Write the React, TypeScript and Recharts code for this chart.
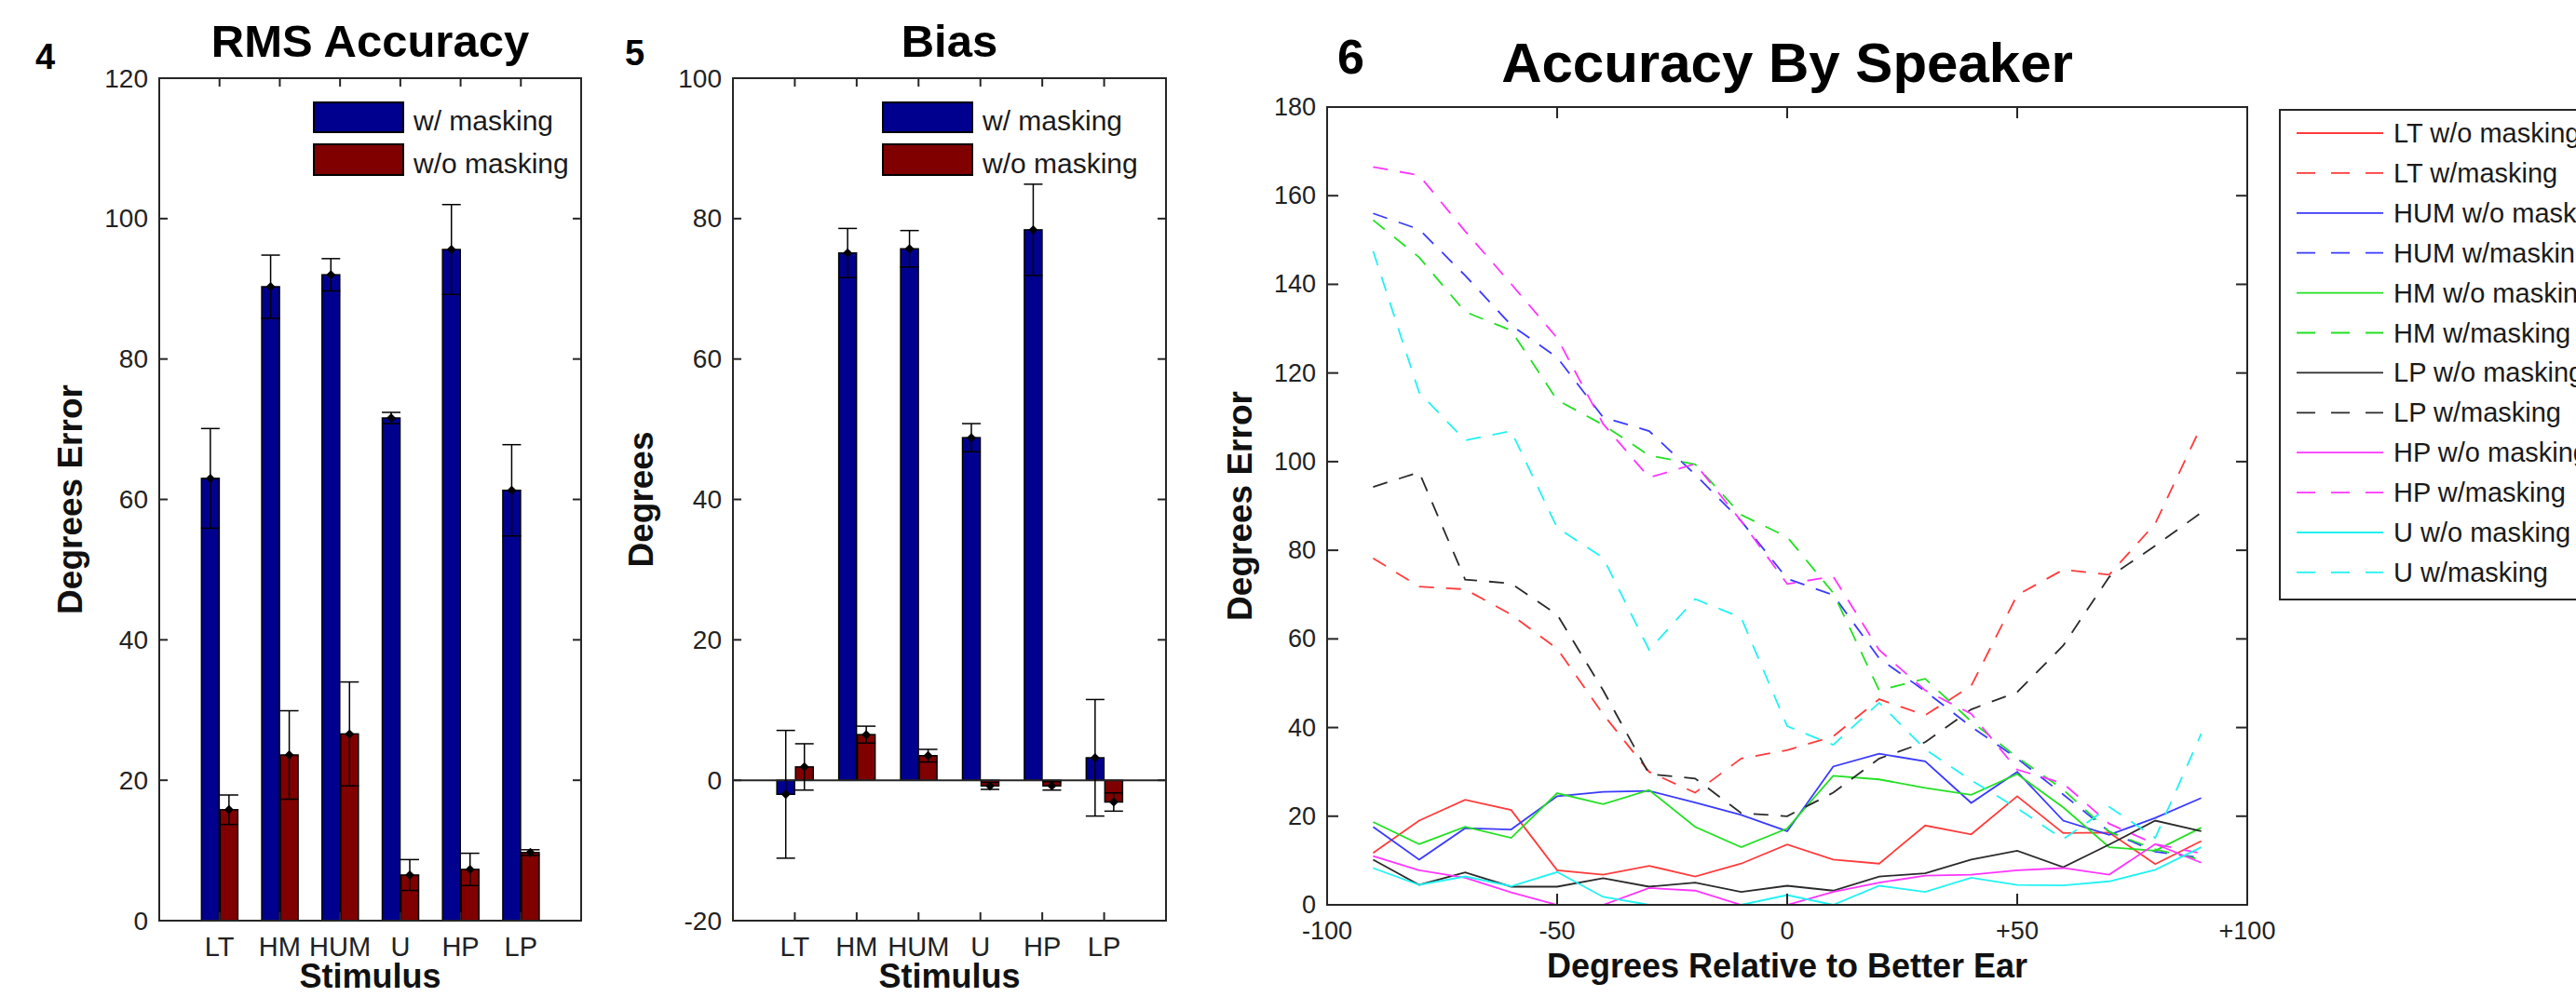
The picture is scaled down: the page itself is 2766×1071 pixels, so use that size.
import React from 'react';
import { BarChart, Bar, XAxis, YAxis, ErrorBar, ReferenceLine, ReferenceArea, LineChart, Line } from 'recharts';

const FONT = '"Liberation Sans", Arial, Helvetica, sans-serif';
const AX = '#262626';
const PAGE_W = 2766;
const PAGE_H = 1071;

// ---------- Panels 4 & 5 data ----------
const stimuli = ['LT', 'HM', 'HUM', 'U', 'HP', 'LP'];
const rmsWithMasking = [63.0, 90.3, 92.0, 71.6, 95.6, 61.3];
const rmsWithMaskingErr = [7.1, 4.5, 2.3, 0.8, 6.4, 6.5];
const rmsWithoutMasking = [15.8, 23.6, 26.6, 6.5, 7.3, 9.7];
const rmsWithoutMaskingErr = [2.1, 6.3, 7.4, 2.2, 2.3, 0.4];
const biasWithMasking = [-2.0, 75.1, 75.7, 48.8, 78.4, 3.2];
const biasWithMaskingErr = [9.1, 3.5, 2.6, 2.0, 6.5, 8.3];
const biasWithoutMasking = [1.9, 6.5, 3.5, -0.8, -0.8, -3.1];
const biasWithoutMaskingErr = [3.3, 1.2, 0.9, 0.5, 0.6, 1.3];
const rmsTicks = [0, 20, 40, 60, 80, 100, 120];
const biasTicks = [-20, 0, 20, 40, 60, 80, 100];

// ---------- Panel 6 data ----------
const degrees = [-90, -80, -70, -60, -50, -40, -30, -20, -10, 0, 10, 20, 30, 40, 50, 60, 70, 80, 90];
const ltWithout = [11.7, 19.0, 23.7, 21.4, 7.8, 6.8, 8.8, 6.4, 9.3, 13.6, 10.2, 9.3, 17.9, 15.9, 24.5, 16.2, 16.3, 9.2, 14.4];
const ltWith = [78.2, 71.8, 71.2, 65.5, 57.8, 43.0, 30.0, 25.3, 33.0, 34.9, 38.0, 46.4, 42.8, 49.4, 69.9, 75.6, 74.5, 86.0, 108.0];
const humWithout = [17.6, 10.2, 17.3, 17.0, 24.5, 25.5, 25.7, 23.1, 20.3, 16.6, 31.2, 34.1, 32.4, 23.0, 30.0, 19.0, 15.8, 19.6, 24.1];
const humWith = [156.0, 152.4, 142.0, 130.8, 123.5, 110.0, 106.9, 97.1, 86.6, 73.6, 69.9, 55.6, 48.2, 40.2, 33.0, 24.9, 16.5, 12.0, 10.6];
const hmWithout = [18.7, 13.7, 17.6, 15.1, 25.2, 22.7, 25.9, 17.6, 13.0, 17.2, 29.1, 28.3, 26.4, 24.8, 29.5, 22.0, 13.0, 12.2, 17.4];
const hmWith = [154.5, 146.1, 133.8, 129.6, 113.9, 108.3, 101.4, 99.4, 88.0, 83.0, 70.4, 48.4, 51.0, 41.4, 33.3, 26.0, 16.5, 12.5, 10.2];
const lpWithout = [10.2, 4.5, 7.3, 4.1, 4.1, 6.0, 4.1, 5.0, 2.9, 4.3, 3.2, 6.4, 7.1, 10.2, 12.2, 8.5, 13.6, 19.0, 16.6];
const lpWith = [94.3, 97.6, 73.4, 72.5, 65.5, 48.4, 29.5, 28.5, 20.7, 20.0, 25.3, 33.0, 36.7, 44.1, 48.0, 58.5, 74.0, 81.0, 88.5];
const hpWithout = [11.0, 7.8, 6.1, 2.8, 0, 0, 3.8, 3.2, 0, 0, 2.9, 5.0, 6.6, 6.8, 7.8, 8.3, 6.8, 13.7, 9.5];
const hpWith = [166.5, 164.6, 152.0, 140.1, 127.9, 108.5, 96.4, 99.5, 86.6, 72.4, 74.1, 57.5, 48.4, 43.1, 30.5, 27.4, 18.3, 13.7, 11.6];
const uWithout = [8.3, 4.5, 6.4, 4.2, 7.4, 1.8, 0, 0, 0, 2.2, 0, 4.3, 2.9, 6.1, 4.5, 4.4, 5.3, 7.9, 13.0];
const uWith = [147.5, 115.6, 104.8, 106.9, 85.1, 78.3, 57.5, 69.0, 64.8, 40.3, 36.1, 45.6, 35.1, 28.1, 21.8, 14.8, 22.1, 15.1, 38.6];
const speakerXTicks = [-100, -50, 0, 50, 100];
const speakerYTicks = [0, 20, 40, 60, 80, 100, 120, 140, 160, 180];

const RED = '#ff3b3b';
const BLUE = '#3a3aff';
const GREEN = '#22e022';
const BLACK = '#2a2a2a';
const MAGENTA = '#ff35ff';
const CYAN = '#22f2f2';

const speakerSeries = [
  { key: 'ltWo', name: 'LT w/o masking', values: ltWithout, color: RED, dashed: false },
  { key: 'ltW', name: 'LT w/masking', values: ltWith, color: RED, dashed: true },
  { key: 'humWo', name: 'HUM w/o masking', values: humWithout, color: BLUE, dashed: false },
  { key: 'humW', name: 'HUM w/masking', values: humWith, color: BLUE, dashed: true },
  { key: 'hmWo', name: 'HM w/o masking', values: hmWithout, color: GREEN, dashed: false },
  { key: 'hmW', name: 'HM w/masking', values: hmWith, color: GREEN, dashed: true },
  { key: 'lpWo', name: 'LP w/o masking', values: lpWithout, color: BLACK, dashed: false },
  { key: 'lpW', name: 'LP w/masking', values: lpWith, color: BLACK, dashed: true },
  { key: 'hpWo', name: 'HP w/o masking', values: hpWithout, color: MAGENTA, dashed: false },
  { key: 'hpW', name: 'HP w/masking', values: hpWith, color: MAGENTA, dashed: true },
  { key: 'uWo', name: 'U w/o masking', values: uWithout, color: CYAN, dashed: false },
  { key: 'uW', name: 'U w/masking', values: uWith, color: CYAN, dashed: true },
];

const DASH = '16 13';

// ---------- geometry ----------
type Geo = { L: number; R: number; T: number; B: number; left: number; width: number };
const G4: Geo = { L: 171, R: 624, T: 84, B: 989, left: 0, width: 650 };
const G5: Geo = { L: 787, R: 1252, T: 84, B: 989, left: 650, width: 640 };
const G6: Geo = { L: 1425, R: 2413, T: 115, B: 972, left: 1290, width: 1476 };
const YW = 60;
const XH = 40;

const marginOf = (g: Geo) => ({
  top: g.T,
  bottom: PAGE_H - g.B - XH,
  left: g.L - g.left - YW,
  right: g.left + g.width - g.R,
});

function makeYTick(g: Geo, fontSize: number, len: number) {
  return (props: any) => {
    const { y, payload } = props;
    const xl = g.L - g.left;
    const xr = g.R - g.left;
    return (
      <g>
        <line x1={xl} x2={xl + len} y1={y} y2={y} stroke={AX} strokeWidth={2} />
        <line x1={xr} x2={xr - len} y1={y} y2={y} stroke={AX} strokeWidth={2} />
        <text x={xl - 12} y={y} textAnchor="end" dominantBaseline="central" fontSize={fontSize} fill="#222" fontFamily={FONT}>
          {String(payload.value)}
        </text>
      </g>
    );
  };
}

function makeXTick(g: Geo, fontSize: number, len: number, fmt: (v: number) => string, labelY: number) {
  return (props: any) => {
    const { x, payload } = props;
    return (
      <g>
        <line x1={x} x2={x} y1={g.B} y2={g.B - len} stroke={AX} strokeWidth={2} />
        <line x1={x} x2={x} y1={g.T} y2={g.T + len} stroke={AX} strokeWidth={2} />
        <text x={x} y={labelY} textAnchor="middle" fontSize={fontSize} fill="#222" fontFamily={FONT}>
          {fmt(payload.value)}
        </text>
      </g>
    );
  };
}

function makeBarShape(key: string) {
  return (props: any) => {
    const { x, y, width, height, fill, payload } = props;
    if (x == null || y == null) return <g />;
    const top = Math.min(y, y + height);
    const h = Math.abs(height);
    const raw = payload && payload[key] != null ? payload[key] : Array.isArray(props.value) ? props.value[1] : props.value;
    const ey = raw >= 0 ? top : top + h;
    const cx = x + width / 2;
    const d = 5;
    return (
      <g>
        <rect x={x} y={top} width={width} height={h} fill={fill} stroke="#000" strokeWidth={1.5} />
        <path d={`M${cx},${ey - d} L${cx + d},${ey} L${cx},${ey + d} L${cx - d},${ey} Z`} fill="#000" />
      </g>
    );
  };
}

const catLabel = (v: number) => stimuli[Math.round(v) - 1] ?? '';

function BarPanel(props: {
  g: Geo;
  withVals: number[];
  withErr: number[];
  withoutVals: number[];
  withoutErr: number[];
  domain: [number, number];
  ticks: number[];
  zeroLine: boolean;
}) {
  const { g, withVals, withErr, withoutVals, withoutErr, domain, ticks, zeroLine } = props;
  const data = stimuli.map((s, i) => ({
    pos: i + 1,
    cat: s,
    w: withVals[i],
    wErr: withErr[i],
    wo: withoutVals[i],
    woErr: withoutErr[i],
  }));
  const catTicks = stimuli.map((_, i) => i + 1);
  return (
    <div style={{ position: 'absolute', left: g.left, top: 0, width: g.width, height: PAGE_H }}>
      <BarChart width={g.width} height={PAGE_H} data={data} margin={marginOf(g)} barSize={19} barGap={1}>
        <XAxis
          type="number"
          dataKey="pos"
          domain={[0, 7]}
          ticks={catTicks}
          interval={0}
          height={XH}
          axisLine={{ stroke: AX, strokeWidth: 2 }}
          tickLine={false}
          tickSize={0}
          tick={makeXTick(g, 29, 9, catLabel, g.B + 38)}
        />
        <YAxis
          type="number"
          domain={domain}
          ticks={ticks}
          interval={0}
          width={YW}
          axisLine={{ stroke: AX, strokeWidth: 2 }}
          tickLine={false}
          tickSize={0}
          tick={makeYTick(g, 28, 9)}
        />
        <ReferenceArea x1={0} x2={7} y1={domain[0]} y2={domain[1]} fill="none" stroke={AX} strokeWidth={2} ifOverflow="visible" />
        {zeroLine && <ReferenceLine y={0} stroke={AX} strokeWidth={2} />}
        <Bar dataKey="w" fill="#00008F" isAnimationActive={false} shape={makeBarShape('w')}>
          <ErrorBar dataKey="wErr" width={10} stroke="#000" strokeWidth={1.5} />
        </Bar>
        <Bar dataKey="wo" fill="#800000" isAnimationActive={false} shape={makeBarShape('wo')}>
          <ErrorBar dataKey="woErr" width={10} stroke="#000" strokeWidth={1.5} />
        </Bar>
      </BarChart>
    </div>
  );
}

const fmtDeg = (v: number) => (v > 0 ? `+${v}` : `${v}`);

function SpeakerPanel() {
  const g = G6;
  const data = degrees.map((d, i) => {
    const row: Record<string, number> = { deg: d };
    speakerSeries.forEach((s) => {
      row[s.key] = s.values[i];
    });
    return row;
  });
  return (
    <div style={{ position: 'absolute', left: g.left, top: 0, width: g.width, height: PAGE_H }}>
      <LineChart width={g.width} height={PAGE_H} data={data} margin={marginOf(g)}>
        <XAxis
          type="number"
          dataKey="deg"
          domain={[-100, 100]}
          ticks={speakerXTicks}
          interval={0}
          height={XH}
          axisLine={{ stroke: AX, strokeWidth: 2 }}
          tickLine={false}
          tickSize={0}
          tick={makeXTick(g, 27, 12, fmtDeg, g.B + 37)}
        />
        <YAxis
          type="number"
          domain={[0, 180]}
          ticks={speakerYTicks}
          interval={0}
          width={YW}
          axisLine={{ stroke: AX, strokeWidth: 2 }}
          tickLine={false}
          tickSize={0}
          tick={makeYTick(g, 27, 12)}
        />
        <ReferenceArea x1={-100} x2={100} y1={0} y2={180} fill="none" stroke={AX} strokeWidth={2} ifOverflow="visible" />
        {speakerSeries.map((s) => (
          <Line
            key={s.key}
            dataKey={s.key}
            type="linear"
            stroke={s.color}
            strokeWidth={1.8}
            strokeDasharray={s.dashed ? DASH : undefined}
            dot={false}
            activeDot={false}
            isAnimationActive={false}
          />
        ))}
      </LineChart>
    </div>
  );
}

function Overlay() {
  const txt = { fontFamily: FONT, fill: '#111' } as const;
  const legendRowY = (i: number) => 143 + i * 42.9;
  return (
    <svg width={PAGE_W} height={PAGE_H} style={{ position: 'absolute', left: 0, top: 0, pointerEvents: 'none' }}>
      {/* panel numbers */}
      <text x={38} y={74} fontSize={38} fontWeight="bold" {...txt} fill="#000">4</text>
      <text x={671} y={70} fontSize={38} fontWeight="bold" {...txt} fill="#000">5</text>
      <text x={1436} y={79} fontSize={52} fontWeight="bold" {...txt} fill="#000">6</text>

      {/* titles */}
      <text x={(G4.L + G4.R) / 2} y={61} textAnchor="middle" fontSize={49} fontWeight="bold" {...txt} fill="#000">RMS Accuracy</text>
      <text x={(G5.L + G5.R) / 2} y={61} textAnchor="middle" fontSize={49} fontWeight="bold" {...txt} fill="#000">Bias</text>
      <text x={(G6.L + G6.R) / 2} y={88} textAnchor="middle" fontSize={60} fontWeight="bold" {...txt} fill="#000">Accuracy By Speaker</text>

      {/* axis labels */}
      <text x={75} y={(G4.T + G4.B) / 2} transform={`rotate(-90 75 ${(G4.T + G4.B) / 2})`} textAnchor="middle" dominantBaseline="central" fontSize={37} fontWeight="bold" {...txt}>Degrees Error</text>
      <text x={688} y={(G5.T + G5.B) / 2} transform={`rotate(-90 688 ${(G5.T + G5.B) / 2})`} textAnchor="middle" dominantBaseline="central" fontSize={37} fontWeight="bold" {...txt}>Degrees</text>
      <text x={1331} y={(G6.T + G6.B) / 2} transform={`rotate(-90 1331 ${(G6.T + G6.B) / 2})`} textAnchor="middle" dominantBaseline="central" fontSize={37} fontWeight="bold" {...txt}>Degrees Error</text>
      <text x={(G4.L + G4.R) / 2} y={1061} textAnchor="middle" fontSize={36} fontWeight="bold" {...txt}>Stimulus</text>
      <text x={(G5.L + G5.R) / 2} y={1061} textAnchor="middle" fontSize={36} fontWeight="bold" {...txt}>Stimulus</text>
      <text x={(G6.L + G6.R) / 2} y={1050} textAnchor="middle" fontSize={36} fontWeight="bold" {...txt}>Degrees Relative to Better Ear</text>

      {/* bar legends */}
      {[G4, G5].map((g, k) => {
        const sx = k === 0 ? 337 : 948;
        return (
          <g key={k}>
            <rect x={sx} y={110} width={96} height={32} fill="#00008F" stroke="#000" strokeWidth={2} />
            <rect x={sx} y={155} width={96} height={33} fill="#800000" stroke="#000" strokeWidth={2} />
            <text x={sx + 107} y={140} fontSize={30} {...txt} fill="#1a1a1a">w/ masking</text>
            <text x={sx + 107} y={186} fontSize={30} {...txt} fill="#1a1a1a">w/o masking</text>
          </g>
        );
      })}

      {/* speaker legend (its right part lies beyond the picture's edge, as in the original) */}
      <rect x={2448} y={118} width={400} height={526} fill="#fff" stroke={AX} strokeWidth={2} />
      {speakerSeries.map((s, i) => (
        <g key={s.key}>
          <line
            x1={2466}
            x2={2559}
            y1={legendRowY(i)}
            y2={legendRowY(i)}
            stroke={s.color}
            strokeWidth={1.8}
            strokeDasharray={s.dashed ? '20 17' : undefined}
          />
          <text x={2570} y={legendRowY(i)} dominantBaseline="central" fontSize={29} {...txt} fill="#1a1a1a">
            {s.name}
          </text>
        </g>
      ))}
    </svg>
  );
}

export default function App() {
  return (
    <div
      style={{
        position: 'fixed',
        left: 0,
        top: 0,
        width: PAGE_W,
        height: PAGE_H,
        overflow: 'hidden',
        background: '#fff',
        fontFamily: FONT,
      }}
    >
      <BarPanel
        g={G4}
        withVals={rmsWithMasking}
        withErr={rmsWithMaskingErr}
        withoutVals={rmsWithoutMasking}
        withoutErr={rmsWithoutMaskingErr}
        domain={[0, 120]}
        ticks={rmsTicks}
        zeroLine={false}
      />
      <BarPanel
        g={G5}
        withVals={biasWithMasking}
        withErr={biasWithMaskingErr}
        withoutVals={biasWithoutMasking}
        withoutErr={biasWithoutMaskingErr}
        domain={[-20, 100]}
        ticks={biasTicks}
        zeroLine={true}
      />
      <SpeakerPanel />
      <Overlay />
    </div>
  );
}
